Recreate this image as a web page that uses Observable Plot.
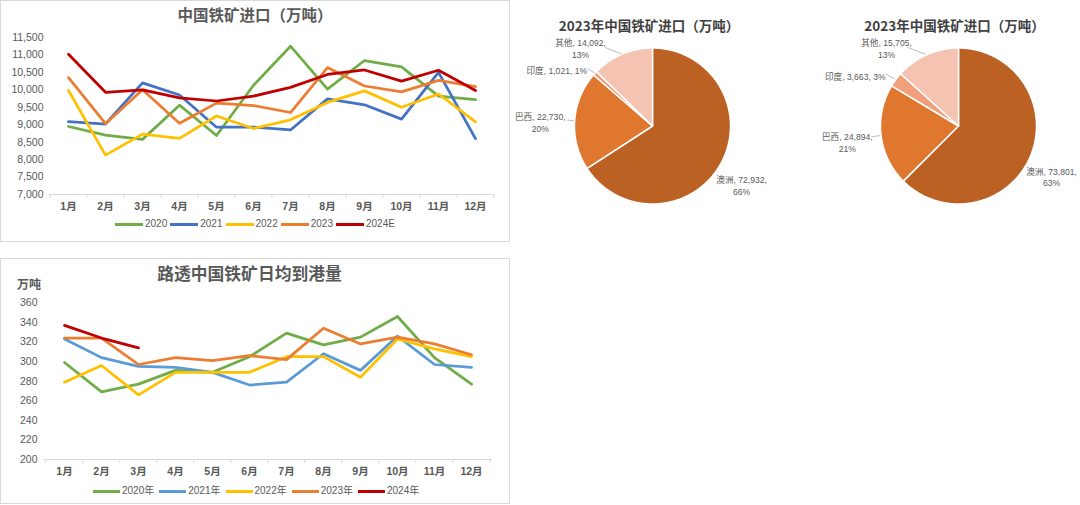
<!DOCTYPE html>
<html><head><meta charset="utf-8">
<script src="https://cdn.jsdelivr.net/npm/d3@7"></script>
<script src="https://cdn.jsdelivr.net/npm/@observablehq/plot@0.6"></script>
<style>
html,body{margin:0;padding:0;background:#fff;}
#root{position:relative;width:1080px;height:505px;overflow:hidden;font-family:"Liberation Sans","Noto Sans CJK SC",sans-serif;color:#595959;}
.abs{position:absolute;}
.panel{position:absolute;border:1px solid #D9D9D9;box-sizing:border-box;pointer-events:none;}
.title{position:absolute;font-family:"Noto Sans CJK SC",sans-serif;font-weight:bold;color:#595959;text-align:center;white-space:nowrap;transform:translateX(-50%);}
.legend{position:absolute;display:flex;align-items:center;font-size:10px;color:#595959;white-space:nowrap;height:14px;line-height:14px;}
.legend .sw{display:inline-block;height:3px;}
.bold-x g[aria-label="x-axis tick label"] text{font-weight:bold;}
</style></head><body><div id="root"></div>
<script>
// ---------- data ----------
const months = ["1月","2月","3月","4月","5月","6月","7月","8月","9月","10月","11月","12月"];

const importNames = ["2020","2021","2022","2023","2024E"];
const import2020 = [8950,8700,8580,9560,8690,10130,11250,10020,10840,10660,9820,9720];
const import2021 = [9090,9020,10200,9850,8930,8930,8850,9740,9570,9160,10500,8600];
const import2022 = [9980,8130,8730,8610,9250,8890,9140,9640,9970,9500,9880,9080];
const import2023 = [10350,9030,10000,9040,9620,9550,9350,10640,10110,9940,10270,10090];
const import2024E = [11020,9930,10000,9770,9680,9820,10070,10440,10570,10250,10560,9980];
const importTicks = [7000,7500,8000,8500,9000,9500,10000,10500,11000,11500];
const importColors = ["#70AD47","#4472C4","#FFC000","#ED7D31","#C00000"];

const arrivalNames = ["2020年","2021年","2022年","2023年","2024年"];
const arrival2020 = [299,269,277,291,289,305,329,317,325,346,304,277];
const arrival2021 = [323,304,295,294,289,276,279,308,291,326,297,294];
const arrival2022 = [279,296,266,289,289,289,305,305,284,323,313,305];
const arrival2023 = [324,324,297,304,301,306,302,334,318,325,318,307];
const arrival2024 = [337,324,314];
const arrivalTicks = [200,220,240,260,280,300,320,340,360];
const arrivalColors = ["#70AD47","#5B9BD5","#FFC000","#ED7D31","#C00000"];

const pieNames = ["澳洲","巴西","印度","其他"];
const pie1Values = [72932,22730,1021,14092];
const pie1Pcts = ["66%","20%","1%","13%"];
const pie2Values = [73801,24894,3663,15705];
const pie2Pcts = ["63%","21%","3%","13%"];
const pieColors = ["#BA6123","#DF772F","#F0A07C","#F5C3B1"];

const title1 = "中国铁矿进口（万吨）";
const title2 = "路透中国铁矿日均到港量";
const pieTitle1 = "2023年中国铁矿进口（万吨）";
const pieTitle2 = "2023年中国铁矿进口（万吨）";
const unitLabel = "万吨";

// ---------- layout ----------
const FONT = '"Liberation Sans","Noto Sans CJK SC",sans-serif';
const root = document.getElementById("root");

function place(el, left, top) {
  const d = document.createElement("div");
  d.className = "abs"; d.style.left = left + "px"; d.style.top = top + "px";
  d.appendChild(el); root.appendChild(d); return d;
}
function addDiv(cls, css, text) {
  const d = document.createElement("div");
  d.className = cls; Object.assign(d.style, css);
  if (text != null) d.textContent = text;
  root.appendChild(d); return d;
}

function lineChart({series, names, colors, ticks, domain, left, top, width, height, mL, mR, mT, mB, tickFmt}) {
  const data = names.flatMap((n, i) => series[i].map((v, j) => ({month: months[j], value: v, series: n})));
  const step = (width - mL - mR) / months.length;
  const svg = Plot.plot({
    width, height, marginLeft: mL, marginRight: mR, marginTop: mT, marginBottom: mB,
    className: "bold-x",
    style: {fontFamily: FONT, fontSize: "10.5px", color: "#595959", background: "transparent"},
    x: {type: "point", domain: months, padding: 0.5},
    y: {domain},
    color: {domain: names, range: colors},
    marks: [
      Plot.ruleY([domain[0]], {stroke: "#D9D9D9", strokeWidth: 1}),
      Plot.axisX({tickSize: 0, tickPadding: 8, label: null, fontWeight: "bold"}),
      Plot.axisX({tickSize: 4, dx: -step / 2, tickFormat: () => "", label: null, stroke: "#D9D9D9"}),
      Plot.axisX({ticks: [months[months.length - 1]], tickSize: 4, dx: step / 2, tickFormat: () => "", label: null, stroke: "#D9D9D9"}),
      Plot.axisY({ticks, tickSize: 0, tickPadding: 6, tickFormat: tickFmt, label: null}),
      Plot.line(data, {x: "month", y: "value", stroke: "series", z: "series", strokeWidth: 2.75, strokeLinejoin: "round", strokeLinecap: "round"})
    ]
  });
  place(svg, left, top);
}

function legend(names, colors, left, top, sw, gapA, gapB) {
  const d = addDiv("legend", {left: left + "px", top: top + "px"});
  names.forEach((n, i) => {
    const s = document.createElement("span"); s.className = "sw";
    s.style.width = sw + "px"; s.style.background = colors[i]; s.style.marginRight = gapA + "px";
    const t = document.createElement("span"); t.textContent = n; t.style.marginRight = gapB + "px";
    d.appendChild(s); d.appendChild(t);
  });
}

function pieChart({values, pcts, layout, left, top, W, H, cx, cy, R, title, titleX}) {
  const deg = Math.PI / 180;
  const arcs = d3.pie().sort(null).value(d => d)(values);
  const polar = (a, r) => ({x: r * Math.sin(a), y: r * Math.cos(a)});
  const slices = arcs.flatMap((a, i) => {
    const n = Math.max(2, Math.ceil((a.endAngle - a.startAngle) / (0.5 * deg)));
    const pts = [{name: pieNames[i], x: 0, y: 0}];
    for (let k = 0; k <= n; k++) {
      const t = a.startAngle + (a.endAngle - a.startAngle) * k / n;
      pts.push({name: pieNames[i], ...polar(t, 1)});
    }
    pts.push({name: pieNames[i], x: 0, y: 0});
    return pts;
  });
  const fmt = d3.format(",");
  const labels = arcs.map((a, i) => {
    const L = layout[i];
    const mid = (a.startAngle + a.endAngle) / 2;
    const p = polar(mid + L.dA * deg, L.r);
    const text = L.wrap ? `${pieNames[i]}, ${fmt(values[i])},\n${pcts[i]}` : `${pieNames[i]}, ${fmt(values[i])}, ${pcts[i]}`;
    return {...p, text};
  });
  const leaders = arcs.flatMap((a, i) => {
    const L = layout[i];
    if (!L.lead) return [];
    const mid = (a.startAngle + a.endAngle) / 2;
    return [{k: i, ...polar(mid, 1.0)}, {k: i, ...polar(mid + L.lead[0] * deg, L.lead[1])}];
  });
  const svg = Plot.plot({
    width: W, height: H, margin: 0,
    style: {fontFamily: FONT, background: "transparent", overflow: "visible"},
    x: {domain: [-cx / R, (W - cx) / R], range: [0, W], axis: null},
    y: {domain: [-(H - cy) / R, cy / R], range: [H, 0], axis: null},
    color: {domain: pieNames, range: pieColors},
    marks: [
      Plot.line(leaders, {x: "x", y: "y", z: "k", stroke: "#A6A6A6", strokeWidth: 0.75}),
      Plot.line(slices, {x: "x", y: "y", z: "name", fill: "name", stroke: "#ffffff", strokeWidth: 1.5, strokeLinejoin: "round"}),
      Plot.text(labels, {x: "x", y: "y", text: "text", fontSize: 8.6, fill: "#595959", lineHeight: 1.35, textAnchor: "middle"})
    ]
  });
  place(svg, left, top);
  addDiv("title", {left: titleX + "px", top: (top + 15) + "px", fontSize: "13.5px", lineHeight: "20px", color: "#404040"}, title);
}

// ---------- top-left: imports ----------
lineChart({
  series: [import2020, import2021, import2022, import2023, import2024E],
  names: importNames, colors: importColors, ticks: importTicks, domain: [7000, 11500],
  left: 0, top: 0, width: 510, height: 242, mL: 49, mR: 16, mT: 37, mB: 48,
  tickFmt: d3.format(",")
});
addDiv("title", {left: "255px", top: "3px", fontSize: "15.5px", lineHeight: "22px"}, title1);
legend(importNames, importColors, 115, 217, 28, 2, 3);
addDiv("panel", {left: "0px", top: "0px", width: "510px", height: "242px"});

// ---------- bottom-left: arrivals ----------
lineChart({
  series: [arrival2020, arrival2021, arrival2022, arrival2023, arrival2024],
  names: arrivalNames, colors: arrivalColors, ticks: arrivalTicks, domain: [200, 360],
  left: 0, top: 258, width: 510, height: 247, mL: 43, mR: 18, mT: 44.3, mB: 46,
  tickFmt: d3.format("d")
});
addDiv("title", {left: "249.5px", top: "261px", fontSize: "16.8px", lineHeight: "24px"}, title2);
addDiv("abs", {left: "17px", top: "276px", fontSize: "12px", lineHeight: "16px", fontWeight: "bold", color: "#595959", fontFamily: '"Noto Sans CJK SC",sans-serif'}, unitLabel);
legend(arrivalNames, arrivalColors, 93, 484, 27, 2, 5);
addDiv("panel", {left: "0px", top: "258px", width: "510px", height: "246px"});

// ---------- pies ----------
const pie1Layout = [
  {dA: 5, r: 1.37, wrap: true, lead: null},
  {dA: -2, r: 1.44, wrap: true, lead: [0, 1.09]},
  {dA: -12.3, r: 1.42, wrap: false, lead: [-1, 1.11]},
  {dA: -19.8, r: 1.36, wrap: true, lead: [-8, 1.17]}
];
const pie2Layout = [
  {dA: 6.2, r: 1.36, wrap: true, lead: null},
  {dA: -1.2, r: 1.44, wrap: true, lead: [0, 1.12]},
  {dA: -10.7, r: 1.47, wrap: false, lead: [-1, 1.14]},
  {dA: -18.8, r: 1.36, wrap: true, lead: [-9, 1.2]}
];
pieChart({values: pie1Values, pcts: pie1Pcts, layout: pie1Layout, left: 510, top: 0, W: 285, H: 210, cx: 142, cy: 125.5, R: 78, title: pieTitle1, titleX: 649});
pieChart({values: pie2Values, pcts: pie2Pcts, layout: pie2Layout, left: 795, top: 0, W: 285, H: 210, cx: 163, cy: 125.5, R: 78, title: pieTitle2, titleX: 954.5});
</script></body></html>
